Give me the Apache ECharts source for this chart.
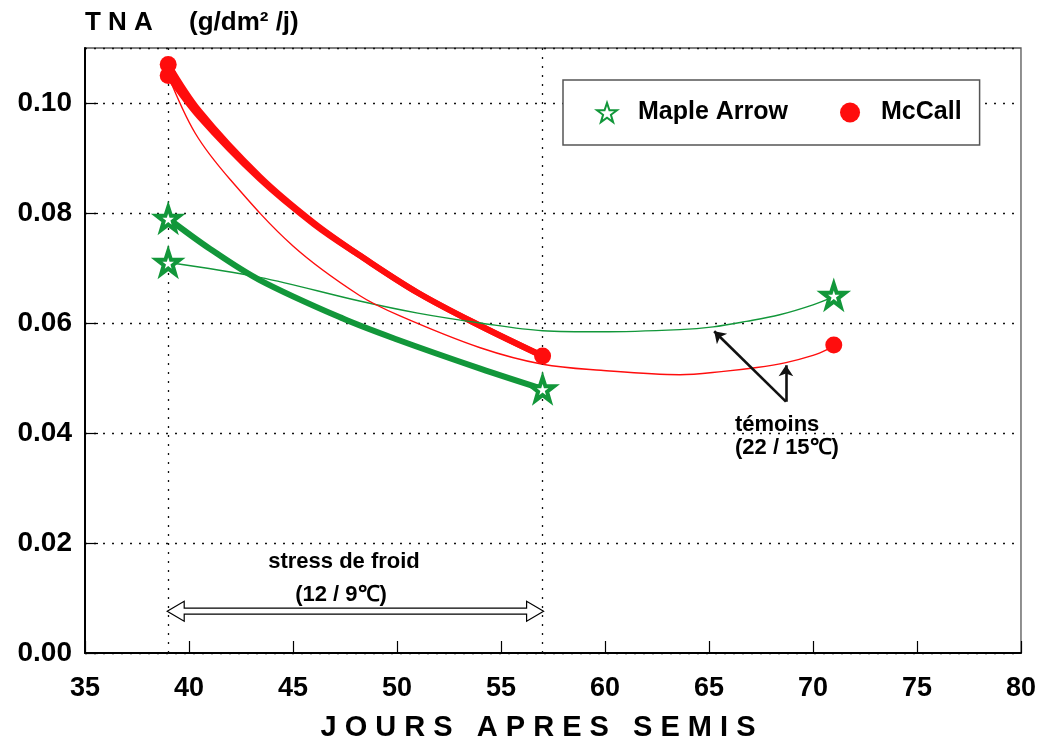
<!DOCTYPE html>
<html>
<head>
<meta charset="utf-8">
<script src="https://cdn.jsdelivr.net/npm/echarts@6/dist/echarts.min.js"></script>
<style>
  html, body { margin: 0; padding: 0; background: #fff; }
  #chart { width: 1039px; height: 747px; }
</style>
</head>
<body>
<div id="chart"></div>
<script>
// Axis ranges (days after sowing, TNA in g/dm²/j)
const xTickValues = [35, 40, 45, 50, 55, 60, 65, 70, 75, 80];
const yTickValues = [0.00, 0.02, 0.04, 0.06, 0.08, 0.10];
const yTop = 0.11;

// Measured points
const mapleDays = [39, 39, 57, 71];
const mapleTna  = [0.079, 0.071, 0.048, 0.065];
const mccallDays = [39, 39, 57, 71];
const mccallTna  = [0.107, 0.105, 0.054, 0.056];

// Cold stress (12 / 9 °C) fitted curves
const stressMapleDays = [39, 41, 43.4, 47.4, 50, 54, 57];
const stressMapleTna  = [0.079, 0.0735, 0.0678, 0.0608, 0.0570, 0.0517, 0.048];
const stressMcDays  = [39, 40.5, 43.4, 46, 48.2, 51, 54, 57];
const stressMcTnaA  = [0.107, 0.0985, 0.0866, 0.0782, 0.0723, 0.0655, 0.0595, 0.054];
const stressMcTnaB  = [0.105, 0.0975, 0.0862, 0.0780, 0.0723, 0.0655, 0.0595, 0.054];

// Control (22 / 15 °C) fitted curves
const ctrlMapleDays = [39, 43.4, 48.2, 51, 54, 57, 59.8, 63.6, 65.2, 66.8, 68.4, 70, 71];
const ctrlMapleTna  = [0.071, 0.0683, 0.0640, 0.0618, 0.0600, 0.0586, 0.0584, 0.0588, 0.0593, 0.0603, 0.0615, 0.0633, 0.0648];
const ctrlMcDays = [39, 40.3, 42, 45, 48.2, 50.2, 54, 57, 59.8, 63.6, 65.7, 67.3, 68.7, 70, 70.7, 71];
const ctrlMcTna  = [0.105, 0.0945, 0.0860, 0.0740, 0.0650, 0.0612, 0.0555, 0.0525, 0.0514, 0.0506, 0.0512, 0.0519, 0.0528, 0.0541, 0.0552, 0.0559];

// Period limits and annotation anchors
const stressPeriod = [39, 57];
const periodArrowY = 0.0076;
const ctrlArrowTail = [68.7, 0.0457];
const ctrlArrowTips = [[65.25, 0.0585], [68.7, 0.0523]];

const GREEN = '#12973a';
const RED = '#ff0d0d';
const FONT = 'Liberation Sans';
const STAR = 'path://M50,0 L61.8,35.4 L98,35.4 L68.8,57.3 L79.4,92.7 L50,71 L20.6,92.7 L31.2,57.3 L2,35.4 L38.2,35.4 Z';

const zip = (xs, ys) => xs.map((x, i) => [x, ys[i]]);

const chart = echarts.init(document.getElementById('chart'));

const curve = (name, xs, ys, color, width) => ({
  name, type: 'line', data: zip(xs, ys), smooth: 0.35,
  symbol: 'none', z: 3, lineStyle: { color, width }
});

chart.setOption({
  animation: false,
  backgroundColor: '#fff',
  grid: {
    left: 85, right: 18, top: 48, bottom: 92,
    show: true, borderColor: '#555', borderWidth: 1.3, backgroundColor: 'transparent'
  },
  legend: {
    data: ['Maple Arrow', 'McCall'],
    left: 563, top: 80,
    itemWidth: 20, itemHeight: 20, itemGap: 52,
    padding: [20, 18, 20, 33],
    borderColor: '#555', borderWidth: 1.5, backgroundColor: '#fff',
    textStyle: { fontFamily: FONT, fontWeight: 'bold', fontSize: 25, color: '#000', padding: [0, 0, 0, 16] }
  },
  xAxis: {
    type: 'value',
    min: xTickValues[0], max: xTickValues[xTickValues.length - 1], interval: 5,
    axisLine: { lineStyle: { color: '#000', width: 2 } },
    axisTick: { inside: true, length: 12, lineStyle: { color: '#000', width: 1.2 } },
    splitLine: { show: false },
    axisLabel: { color: '#000', fontFamily: FONT, fontWeight: 'bold', fontSize: 27, margin: 22 },
    name: 'J O U R S   A P R E S   S E M I S',
    nameLocation: 'middle', nameGap: 60,
    nameTextStyle: { color: '#000', fontFamily: FONT, fontWeight: 'bold', fontSize: 29, padding: [0, 30, 0, 0] }
  },
  yAxis: {
    type: 'value',
    min: yTickValues[0], max: yTop, interval: 0.02,
    axisLine: { lineStyle: { color: '#000', width: 2 } },
    axisTick: { inside: true, length: 13, lineStyle: { color: '#000', width: 1.2 } },
    splitLine: { show: true, lineStyle: { color: '#111', width: 1.3, type: [2, 7] } },
    axisLabel: {
      color: '#000', fontFamily: FONT, fontWeight: 'bold', fontSize: 28, margin: 13,
      showMaxLabel: false,
      formatter: v => v.toFixed(2)
    },
    name: 'T N A     (g/dm² /j)',
    nameLocation: 'end', nameGap: 12,
    nameTextStyle: { color: '#000', fontFamily: FONT, fontWeight: 'bold', fontSize: 26, align: 'left' }
  },
  series: [
    Object.assign(curve('stress-maple', stressMapleDays, stressMapleTna, GREEN, 6), {
      markLine: {
        silent: true, symbol: 'none', label: { show: false },
        lineStyle: { color: '#111', width: 1.3, type: [2, 7] },
        data: stressPeriod.map(d => ({ xAxis: d }))
      }
    }),
    curve('stress-mccall-a', stressMcDays, stressMcTnaA, RED, 6),
    curve('stress-mccall-b', stressMcDays, stressMcTnaB, RED, 6),
    curve('ctrl-maple', ctrlMapleDays, ctrlMapleTna, GREEN, 1.4),
    curve('ctrl-mccall', ctrlMcDays, ctrlMcTna, RED, 1.4),
    {
      name: 'Maple Arrow', type: 'scatter', z: 5,
      data: zip(mapleDays, mapleTna),
      symbol: STAR, symbolSize: 23,
      itemStyle: { color: '#fff', borderColor: GREEN, borderWidth: 4, opacity: 1 }
    },
    {
      name: 'McCall', type: 'scatter', z: 5,
      data: zip(mccallDays, mccallTna),
      symbol: 'circle', symbolSize: 17,
      itemStyle: { color: RED, opacity: 1 }
    },
    {
      name: 'ctrl-arrows', type: 'lines', coordinateSystem: 'cartesian2d', z: 4,
      symbol: ['none', 'arrow'], symbolSize: 11,
      lineStyle: { color: '#111', width: 2.6, opacity: 1 },
      data: ctrlArrowTips.map(tip => ({ coords: [ctrlArrowTail, tip] }))
    }
  ]
});

// Double-headed hollow arrow marking the cold stress period
const p1 = chart.convertToPixel({ gridIndex: 0 }, [stressPeriod[0], periodArrowY]);
const p2 = chart.convertToPixel({ gridIndex: 0 }, [stressPeriod[1], periodArrowY]);
const hl = 17, hh = 10, sh = 3;
const x1 = p1[0] - 1, x2 = p2[0] + 1, y = p1[1];

const textStyle = { fontFamily: FONT, fontWeight: 'bold', fontSize: 22, fill: '#000' };

chart.setOption({
  graphic: [
    {
      type: 'polygon', z: 10,
      shape: { points: [
        [x1, y], [x1 + hl, y - hh], [x1 + hl, y - sh], [x2 - hl, y - sh], [x2 - hl, y - hh],
        [x2, y], [x2 - hl, y + hh], [x2 - hl, y + sh], [x1 + hl, y + sh], [x1 + hl, y + hh]
      ] },
      style: { fill: '#fff', stroke: '#000', lineWidth: 1.2 }
    },
    { type: 'text', x: 344, y: 562, z: 10,
      style: Object.assign({ text: 'stress de froid', align: 'center', verticalAlign: 'middle' }, textStyle) },
    { type: 'text', x: 341, y: 595, z: 10,
      style: Object.assign({ text: '(12 / 9℃)', align: 'center', verticalAlign: 'middle' }, textStyle) },
    { type: 'text', x: 735, y: 425, z: 10,
      style: Object.assign({ text: 'témoins', align: 'left', verticalAlign: 'middle' }, textStyle) },
    { type: 'text', x: 735, y: 448, z: 10,
      style: Object.assign({ text: '(22 / 15℃)', align: 'left', verticalAlign: 'middle' }, textStyle) }
  ]
});
</script>
</body>
</html>
